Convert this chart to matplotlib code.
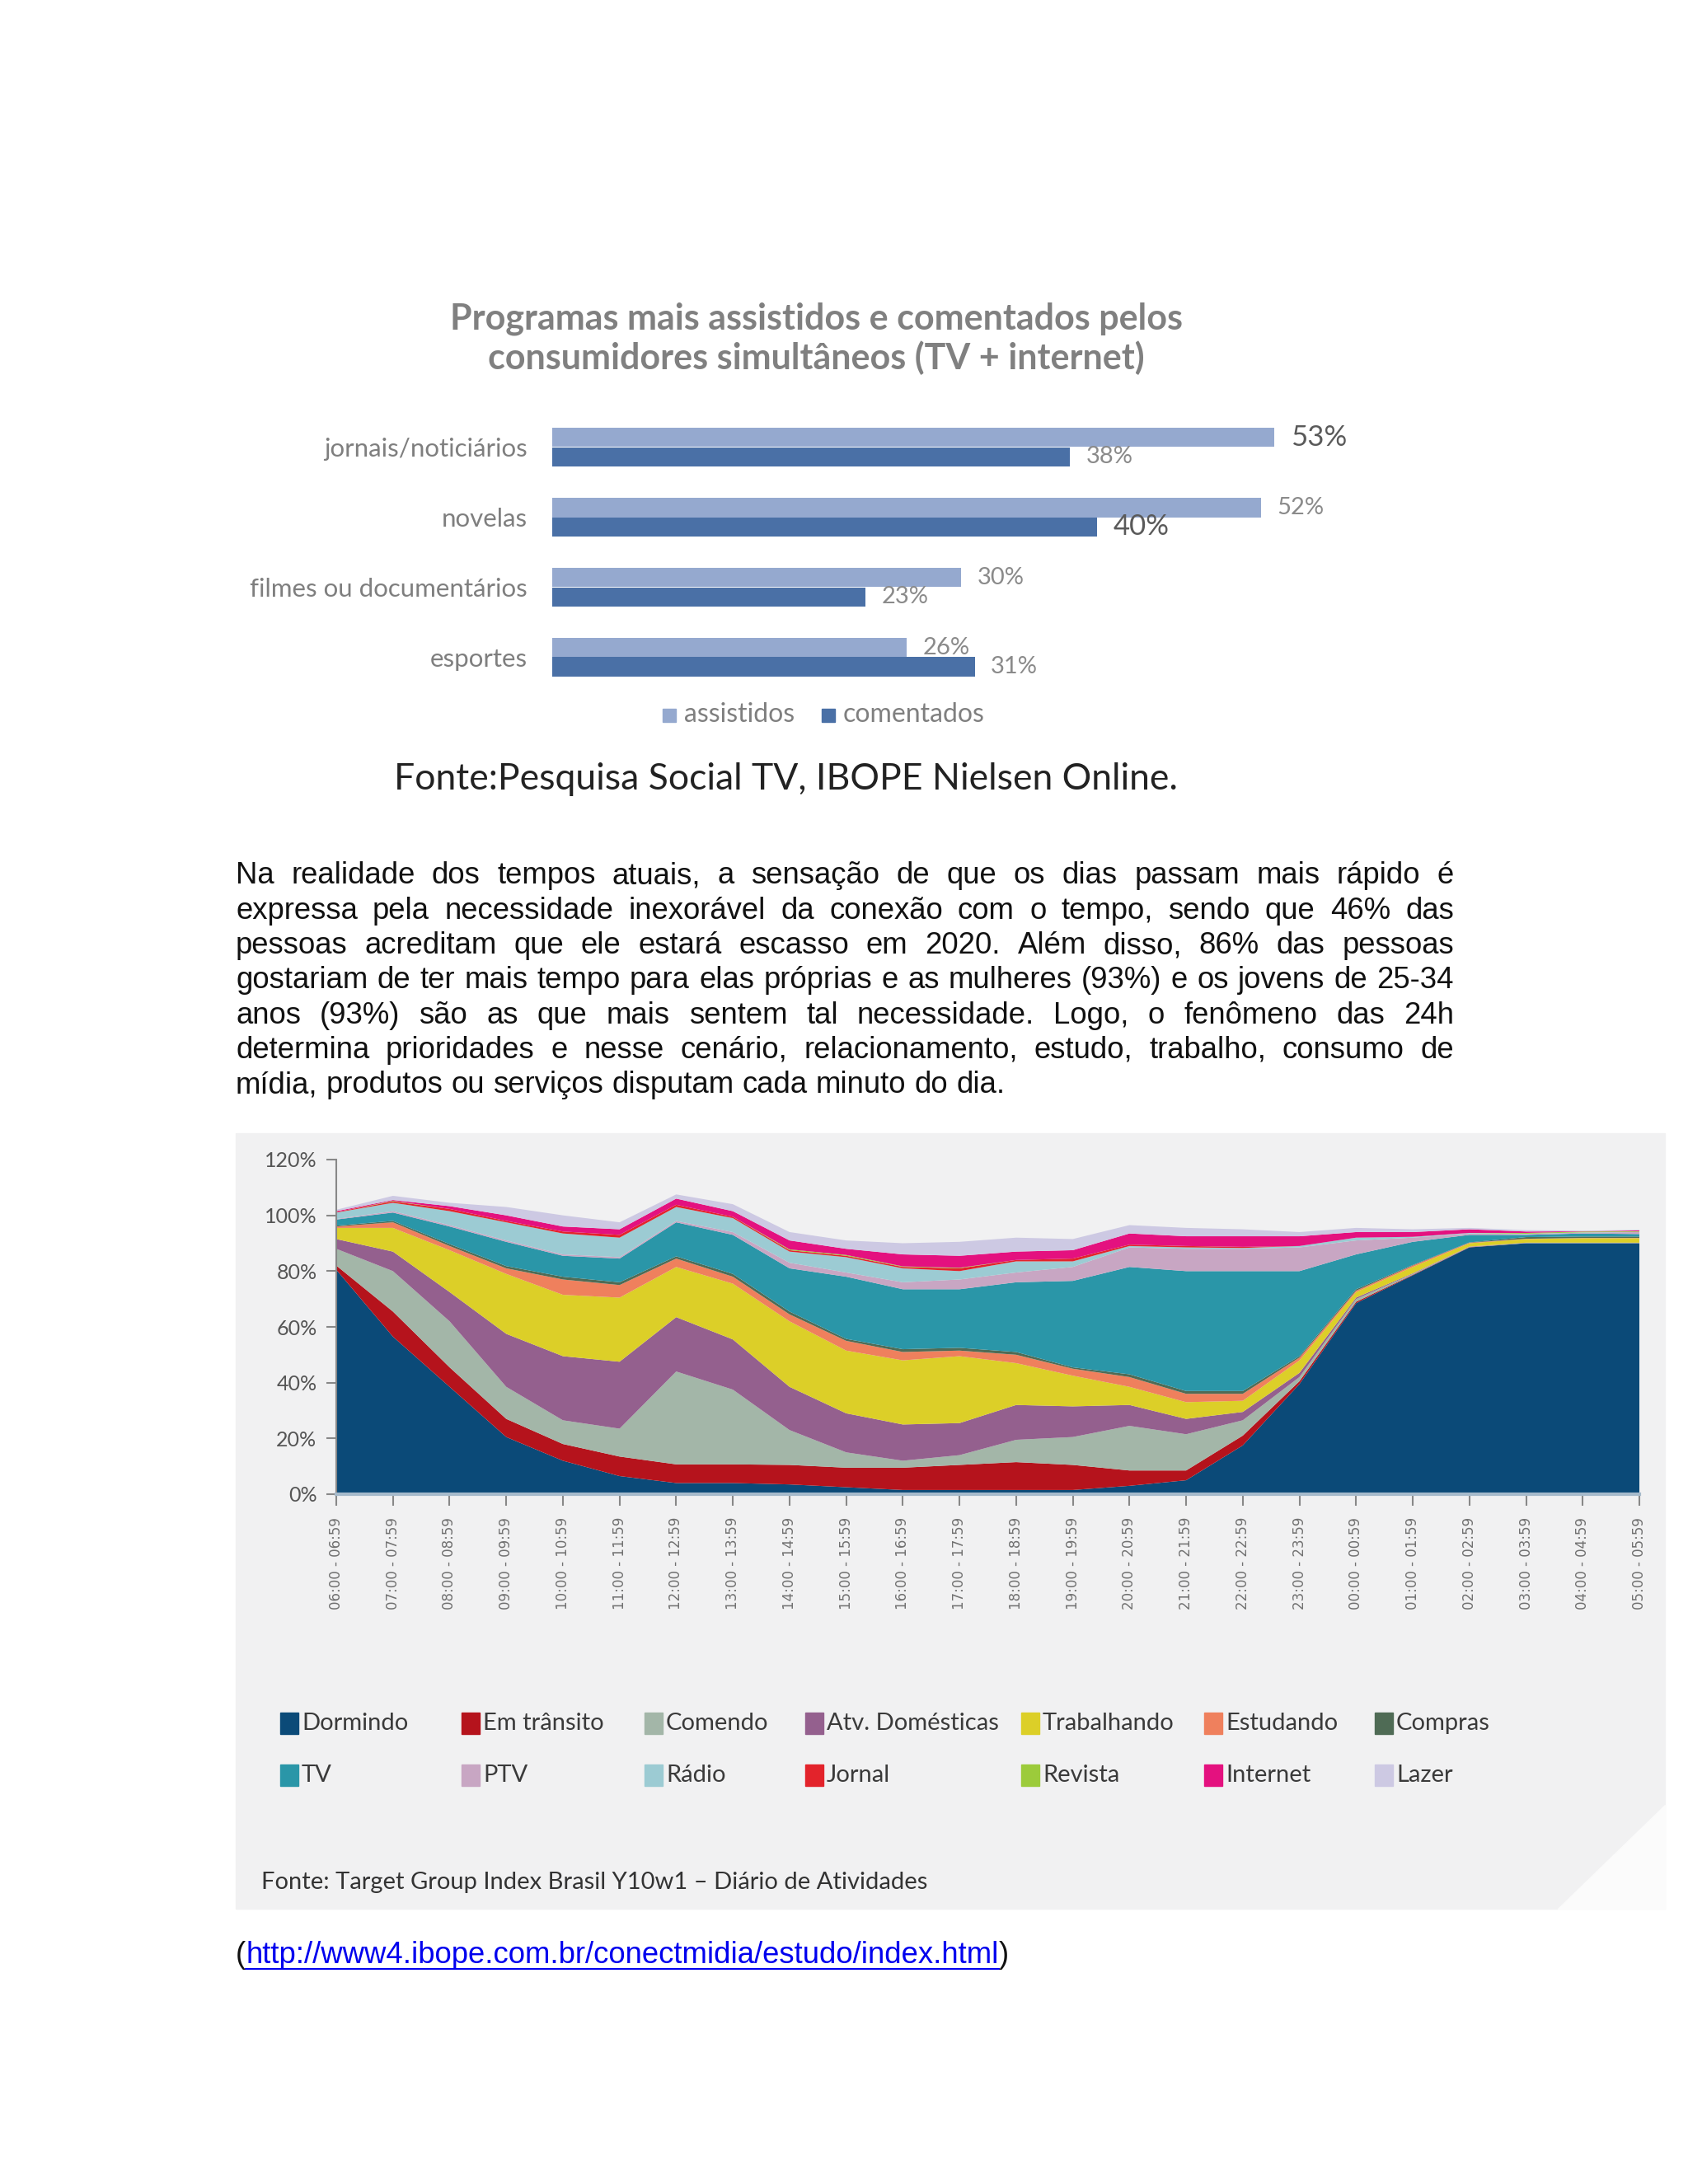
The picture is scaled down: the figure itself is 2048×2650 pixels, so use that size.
import matplotlib
matplotlib.use("Agg")
import matplotlib.pyplot as plt
from matplotlib.patches import Rectangle, Polygon
import numpy as np

W, H = 2048, 2650


def fx(px):
    return px / W


def fy(py):
    return 1 - py / H


# ---- bar chart data ----
bar_title = "Programas mais assistidos e comentados pelos\nconsumidores simultâneos (TV + internet)"
bar_categories = ["jornais/noticiários", "novelas", "filmes ou documentários", "esportes"]
assistidos = [53, 52, 30, 26]
comentados = [38, 40, 23, 31]
bar_source = "Fonte:Pesquisa Social TV, IBOPE Nielsen Online."

# ---- paragraph ----
paragraph_lines = [
    "Na realidade dos tempos atuais, a sensação de que os dias passam mais rápido é",
    "expressa pela necessidade inexorável da conexão com o tempo, sendo que 46% das",
    "pessoas acreditam que ele estará escasso em 2020. Além disso, 86% das pessoas",
    "gostariam de ter mais tempo para elas próprias e as mulheres (93%) e os jovens de 25-34",
    "anos (93%) são as que mais sentem tal necessidade. Logo, o fenômeno das 24h",
    "determina prioridades e nesse cenário, relacionamento, estudo, trabalho, consumo de",
    "mídia, produtos ou serviços disputam cada minuto do dia.",
]

# ---- area chart data (% of people, per hour slot) ----
hour_labels = ["06:00 - 06:59", "07:00 - 07:59", "08:00 - 08:59", "09:00 - 09:59",
               "10:00 - 10:59", "11:00 - 11:59", "12:00 - 12:59", "13:00 - 13:59",
               "14:00 - 14:59", "15:00 - 15:59", "16:00 - 16:59", "17:00 - 17:59",
               "18:00 - 18:59", "19:00 - 19:59", "20:00 - 20:59", "21:00 - 21:59",
               "22:00 - 22:59", "23:00 - 23:59", "00:00 - 00:59", "01:00 - 01:59",
               "02:00 - 02:59", "03:00 - 03:59", "04:00 - 04:59", "05:00 - 05:59"]
dormindo = [80.5, 56.5, 38.5, 20.5, 12, 6.5, 4, 4, 3.5, 2.5, 1.5, 1.5,
            1.5, 1.5, 3, 5, 17.5, 39.5, 68.5, 78.5, 88.5, 90, 90, 90]
em_transito = [1.5, 9, 7, 6.5, 6, 7, 6.7, 6.7, 7, 7, 8, 9,
               10, 9, 5.5, 3.5, 3.5, 1, 0.5, 0.2, 0.1, 0, 0, 0]
comendo = [6, 14.5, 16.5, 11.5, 8.5, 10, 33.3, 26.8, 12.5, 5.5, 2.5, 3.5,
           8, 10, 16, 13, 5.5, 1.5, 1, 0.3, 0.1, 0.1, 0.1, 0.1]
atv_domesticas = [3.5, 7, 10.5, 19, 23, 24, 19.5, 18, 15.5, 14, 13, 11.5,
                  12.5, 11, 7.5, 5.5, 3, 1.5, 0.5, 0.2, 0.1, 0.1, 0.1, 0.1]
trabalhando = [4, 8.5, 15, 21.5, 22, 23, 18, 20, 23.5, 22.5, 23, 24,
               15, 11, 6.5, 6, 4, 4.5, 2, 2.3, 1.2, 1.3, 1.6, 1.6]
estudando = [0.5, 2, 1.5, 2, 5.5, 4.5, 3, 2.5, 2.5, 3.5, 3, 2,
             3, 2.5, 3.5, 3, 2.5, 1, 0.5, 0.5, 0.2, 0.1, 0.1, 0.1]
compras = [0.3, 0.5, 0.7, 0.8, 1, 1, 0.8, 1, 1, 0.7, 1, 1,
           1, 0.5, 1, 1, 1, 0.5, 0.5, 0.2, 0.1, 0.6, 0.5, 0.5]
tv = [2.2, 3, 6.3, 8.7, 7.5, 8.5, 12.2, 14, 15.5, 22.3, 21.5, 21,
      25, 31, 38.5, 43, 43, 30.5, 12.5, 8.3, 2.7, 0.8, 1.1, 0.9]
ptv = [0.2, 0.5, 0.5, 0.5, 0.5, 0.5, 0.5, 1, 2, 1.5, 2.5, 3.5,
       3.5, 5, 7, 8, 8, 8.5, 5, 1.5, 0.5, 0.3, 0.3, 0.7]
radio = [2.3, 3, 5, 6.5, 7.5, 7, 5, 5, 4, 5.5, 5, 3,
         4, 2, 0.5, 0.5, 0.3, 0.5, 1, 0.3, 0.2, 0.1, 0.1, 0.1]
jornal = [0.2, 0.5, 0.8, 0.5, 0.7, 1, 0.8, 0.5, 0.5, 0.5, 0.5, 1,
          0.5, 1, 0.5, 0.5, 0.4, 0, 0, 0, 0, 0, 0, 0]
revista = [0, 0.2, 0, 0, 0, 0, 0, 0, 0.3, 0.3, 0.2, 0.2,
           0, 0, 0, 0, 0, 0, 0, 0, 0, 0.3, 0.3, 0.2]
internet = [0.3, 0.3, 1, 2, 1.8, 2, 2.2, 2, 3.2, 2.2, 4.3, 4.3,
            3, 3, 4, 3.5, 3.8, 3.5, 2, 1.7, 1.3, 0.5, 0.1, 0.3]
lazer = [0.5, 1.5, 1.2, 3, 4, 2.5, 1.5, 2.5, 3, 3, 4, 5,
         5, 4, 3, 3, 2.5, 1.5, 1.5, 1, 0.5, 0.5, 0.2, 0.2]

activity_names = ["Dormindo", "Em trânsito", "Comendo", "Atv. Domésticas", "Trabalhando",
                  "Estudando", "Compras", "TV", "PTV", "Rádio", "Jornal", "Revista",
                  "Internet", "Lazer"]
activity_colors = ["#0b4a78", "#b5131c", "#a3b6a8", "#94608e", "#dccf28", "#ef805d",
                   "#4f6b55", "#2a96a8", "#c8a6c3", "#9ccbd3", "#e3232b", "#9ccb3b",
                   "#e4117f", "#cdc9e3"]
y_ticks = [0, 20, 40, 60, 80, 100, 120]
area_source = "Fonte: Target Group Index Brasil Y10w1 \u2013 Diário de Atividades"
url = "http://www4.ibope.com.br/conectmidia/estudo/index.html"

fig = plt.figure(figsize=(W / 100, H / 100), dpi=100)
fig.patch.set_facecolor("white")
renderer = fig.canvas.get_renderer()

# ================= bar chart =================
fig.text(fx(990), fy(411), bar_title, ha="center", va="center", fontsize=31,
         fontweight="bold", color="#808080", family="Lato", linespacing=1.2)

ax_bar = fig.add_axes([fx(670), fy(840), fx(992), 340 / H])
ax_bar.set_xlim(0, 60)
ax_bar.set_ylim(3.5, -0.5)
pos = np.arange(len(bar_categories))
bh = 0.28
b1 = ax_bar.barh(pos - bh / 2, assistidos, height=bh, color="#95a9cf")
b2 = ax_bar.barh(pos + bh / 2, comentados, height=bh, color="#4a70a6")
ax_bar.set_yticks(pos)
ax_bar.set_yticklabels(bar_categories, fontsize=22.5, color="#7f7f7f", family="Lato")
ax_bar.tick_params(left=False, bottom=False, labelbottom=False, pad=18)
for s in ax_bar.spines.values():
    s.set_visible(False)
ax_bar.patch.set_alpha(0)

big = {53, 40}
for bars, vals in ((b1, assistidos), (b2, comentados)):
    for rect, v in zip(bars, vals):
        ax_bar.annotate(f"{v}%", (rect.get_width(), rect.get_y() + rect.get_height() / 2),
                        xytext=(14, 0), textcoords="offset points", va="center",
                        fontsize=25 if v in big else 21,
                        color="#5a5a5a" if v in big else "#8a8a8a", family="Lato")

# bar legend
for lx, lab, col in ((804, "assistidos", "#95a9cf"), (997, "comentados", "#4a70a6")):
    fig.patches.append(Rectangle((fx(lx), fy(876)), fx(16), 16 / H, color=col,
                                 transform=fig.transFigure))
    fig.text(fx(lx + 26), fy(867), lab, va="center", fontsize=23, color="#7f7f7f",
             family="Lato")

fig.text(fx(953), fy(945), bar_source, ha="center", va="center", fontsize=32,
         color="#222222", family="Lato")

# ================= paragraph (justified) =================
par_kw = dict(fontsize=26.3, color="#111111", family="Liberation Sans", va="center")
x_left, x_right = 286, 1764
t_a = fig.text(0, 0, "x x", **par_kw)
t_b = fig.text(0, 0, "xx", **par_kw)
space_w = t_a.get_window_extent(renderer).width - t_b.get_window_extent(renderer).width
t_a.remove()
t_b.remove()
for i, line in enumerate(paragraph_lines):
    yy = fy(1063 + i * 42.3)
    words = line.split()
    texts = [fig.text(0, yy, w, **par_kw) for w in words]
    widths = [t.get_window_extent(renderer).width for t in texts]
    if i == len(paragraph_lines) - 1:
        gap = space_w
    else:
        gap = (x_right - x_left - sum(widths)) / (len(words) - 1)
    cur = x_left
    for t, w in zip(texts, widths):
        t.set_x(fx(cur))
        cur += w + gap

# ================= area chart =================
fig.patches.append(Rectangle((fx(286), fy(2316)), fx(1734), 941 / H, color="#f1f1f2",
                             transform=fig.transFigure, zorder=-10))
# lighter fold in the bottom-right corner of the panel
fig.patches.append(Polygon([(fx(2020), fy(2190)), (fx(2020), fy(2316)), (fx(1890), fy(2316))],
                           closed=True, color="#fbfbfb", transform=fig.transFigure, zorder=-9))

ax = fig.add_axes([fx(408), fy(1813), fx(1581), 406 / H])
ax.set_zorder(2)
ax.patch.set_alpha(0)
x = np.arange(len(hour_labels))
series = [dormindo, em_transito, comendo, atv_domesticas, trabalhando, estudando, compras,
          tv, ptv, radio, jornal, revista, internet, lazer]
ax.stackplot(x, *series, colors=activity_colors, linewidth=0)
ax.set_xlim(0, len(hour_labels) - 1)
ax.set_ylim(0, 120)
ax.set_yticks(y_ticks)
ax.set_yticklabels([f"{v}%" for v in y_ticks], fontsize=18, color="#555555", family="Lato")
ax.set_xticks(x)
ax.set_xticklabels(hour_labels, rotation=90, fontsize=12, color="#707070", family="DejaVu Sans")
ax.tick_params(axis="y", length=9, width=1.5, color="#888888", pad=8)
ax.tick_params(axis="x", length=10, width=1.5, color="#888888", pad=10)
for side in ("top", "right"):
    ax.spines[side].set_visible(False)
ax.spines["left"].set_color("#888888")
ax.spines["left"].set_linewidth(1.5)
ax.spines["bottom"].set_color("#a6bacb")
ax.spines["bottom"].set_linewidth(3)

# manual legend, two rows of seven
legend_cols = [340, 560, 782, 977, 1239, 1461, 1668]
legend_rows = [2091, 2154]
for k, (name, col) in enumerate(zip(activity_names, activity_colors)):
    lx = legend_cols[k % 7]
    ly = legend_rows[k // 7]
    fig.patches.append(Rectangle((fx(lx), fy(ly + 13)), fx(22), 26 / H, color=col,
                                 transform=fig.transFigure))
    fig.text(fx(lx + 26), fy(ly), name, va="center", fontsize=21, color="#3a3a3a",
             family="Lato")

fig.text(fx(317), fy(2284), area_source, va="center", fontsize=21, color="#333333",
         family="Lato")

# ================= url line =================
url_kw = dict(fontsize=26.3, family="Liberation Sans", va="center")
yy = fy(2372)
p1 = fig.text(fx(286), yy, "(", color="#111111", **url_kw)
w1 = p1.get_window_extent(renderer).width
t_url = fig.text(fx(286 + w1), yy, url, color="#0000ee", **url_kw)
wu = t_url.get_window_extent(renderer).width
fig.text(fx(286 + w1 + wu), yy, ")", color="#111111", **url_kw)
fig.lines.append(plt.Line2D([fx(286 + w1), fx(286 + w1 + wu)], [fy(2389), fy(2389)],
                            color="#0000ee", linewidth=1.5, transform=fig.transFigure))

fig.savefig("out.png", dpi=100, facecolor="white")
